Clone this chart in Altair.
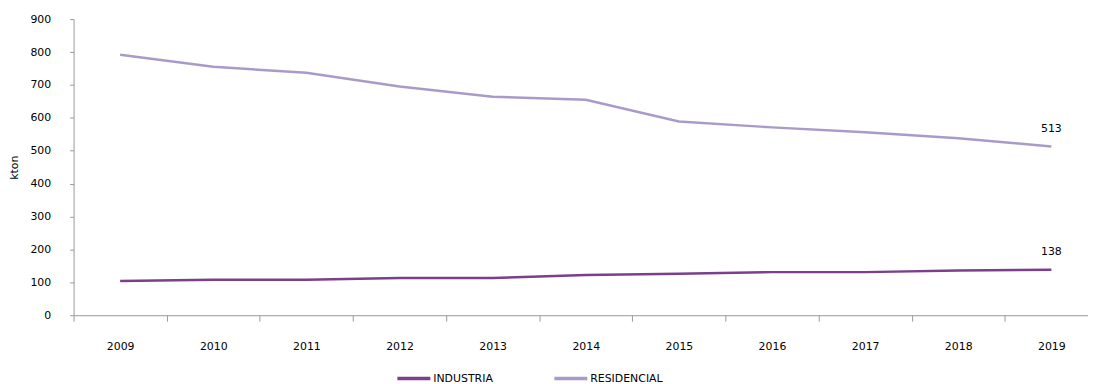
import altair as alt
import pandas as pd

years = ["2009", "2010", "2011", "2012", "2013", "2014", "2015", "2016", "2017", "2018", "2019"]
industria = [104, 108, 108, 113, 113, 122, 126, 131, 131, 136, 138]
residencial = [792, 755, 737, 695, 664, 655, 589, 571, 556, 538, 513]
series_names = ["INDUSTRIA", "RESIDENCIAL"]
series_colors = ["#7B3F8C", "#A99BC9"]

rows = []
for y, a, b in zip(years, industria, residencial):
    rows.append({"year": y, "serie": "INDUSTRIA", "value": a})
    rows.append({"year": y, "serie": "RESIDENCIAL", "value": b})
df = pd.DataFrame(rows)
last = df[df["year"] == years[-1]]

FONT = "DejaVu Sans"
FS = 11

x = alt.X("year:N", title=None, sort=years,
          scale=alt.Scale(type="band", paddingInner=0, paddingOuter=0),
          axis=alt.Axis(labelAngle=0, tickBand="extent", domainColor="#999999",
                        tickColor="#999999", tickSize=6, labelPadding=20,
                        labelFont=FONT, labelFontSize=FS, labelColor="#000000"))
y = alt.Y("value:Q", title="kton",
          scale=alt.Scale(domain=[0, 900]),
          axis=alt.Axis(values=list(range(0, 901, 100)), grid=False, labelOverlap=False,
                        domainColor="#999999", tickColor="#999999", tickSize=4,
                        labelPadding=19, labelFont=FONT, labelFontSize=FS,
                        labelColor="#000000", titleFont=FONT, titleFontSize=FS,
                        titleFontWeight="normal", titleColor="#000000", titlePadding=10))

color = alt.Color("serie:N", scale=alt.Scale(domain=series_names, range=series_colors),
                  legend=alt.Legend(title=None, orient="none", legendX=324, legendY=343,
                                    direction="horizontal",
                                    symbolType="stroke", symbolSize=1100, symbolStrokeWidth=3.5,
                                    labelFont=FONT, labelFontSize=FS, labelColor="#000000",
                                    labelOffset=1, columnPadding=53))

base = alt.Chart(df).encode(x=x, y=y)
lines = base.mark_line(strokeWidth=2.5).encode(color=color)
labels = alt.Chart(last).mark_text(dy=-18, font=FONT, fontSize=FS, color="#000000").encode(
    x=x, y=y, text="value:Q")

chart = alt.layer(lines, labels).properties(
    width=1031, height=298,
    background="white",
    autosize=alt.AutoSizeParams(type="none"),
    padding={"left": 66, "top": 10, "right": -10, "bottom": 68},
).configure_view(stroke=None)

chart.save("out.html", embed_options={"renderer": "svg", "actions": False})
